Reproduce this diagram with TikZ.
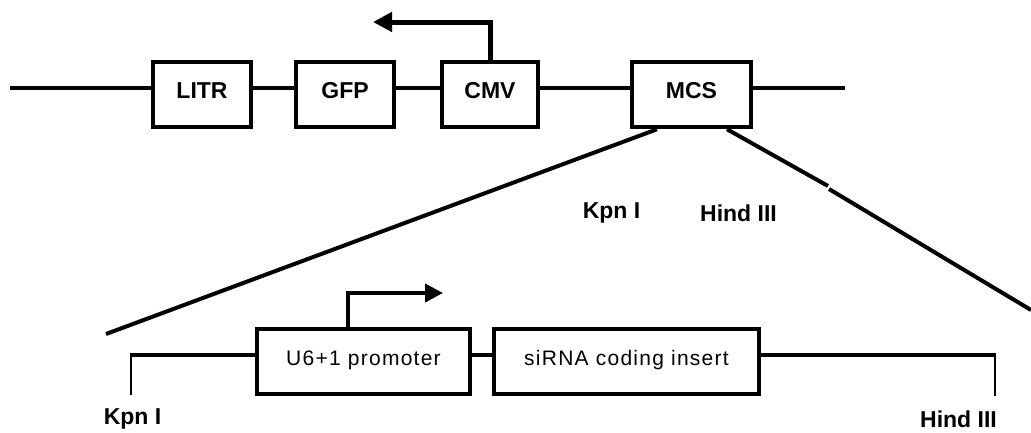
\documentclass[tikz,border=0pt]{standalone}
\usepackage{fontspec}
\setmainfont{Liberation Sans}
\usepackage{tikz}
\usetikzlibrary{arrows.meta,calc}

\begin{document}
\begin{tikzpicture}[x=1pt,y=-1pt,
  genebox/.style={rectangle, draw, line width=4.5pt, minimum height=65pt, text height=17pt, text depth=10pt, font=\fontsize{23}{26}\selectfont\bfseries},
  insbox/.style={rectangle, draw, line width=4pt, minimum height=65pt, text height=16pt, text depth=8pt, font=\fontsize{21}{24}\selectfont\addfontfeature{LetterSpace=6}},
  sitelbl/.style={font=\fontsize{23}{26}\selectfont\bfseries, inner sep=0pt},
  vecline/.style={line width=4pt},
  insline/.style={line width=4pt},
  tickline/.style={line width=2.5pt},
  promarrow/.style={line width=5pt, -{Triangle[length=19pt,width=19pt]}},
  smallarrow/.style={line width=4pt, -{Triangle[length=18pt,width=18pt]}}
]
\useasboundingbox (0,0) rectangle (1031,432);

\coordinate (vstart) at (10,88);
\coordinate (vend) at (845,88);
\coordinate (cmvtip) at (373,22);
\coordinate (zl) at (106,334);
\coordinate (zr1) at (828,186);
\coordinate (zr2) at (829,189);
\coordinate (zr) at (1031,310);
\coordinate (kpnlow) at (131,395);
\coordinate (kpntop) at (131,355);
\coordinate (hindlow) at (995,396);
\coordinate (hindtop) at (995,355);
\coordinate (u6tip) at (443,293);

\node[genebox, minimum width=98pt] (litr) at (202,94.5) {LITR};
\node[genebox, minimum width=98pt] (gfp) at (345,94.5) {GFP};
\node[genebox, minimum width=96pt] (cmv) at (490,94.5) {CMV};
\node[genebox, minimum width=119pt] (mcs) at (691.5,94.5) {MCS};

\draw[vecline] (vstart) -- (vstart -| litr.west);
\draw[vecline] ([yshift=6.5pt]litr.east) -- ([yshift=6.5pt]gfp.west);
\draw[vecline] ([yshift=6.5pt]gfp.east) -- ([yshift=6.5pt]cmv.west);
\draw[vecline] ([yshift=6.5pt]cmv.east) -- ([yshift=6.5pt]mcs.west);
\draw[vecline] ([yshift=6.5pt]mcs.east) -- (vend);
\draw[promarrow] (cmv.north) |- (cmvtip);

\draw[vecline] ([xshift=-34.5pt]mcs.south) -- (zl);
\draw[vecline] ([xshift=35.5pt]mcs.south) -- (zr1);
\draw[vecline] (zr2) -- (zr);

\node[sitelbl] (kpnmid) at (611.5,213) {Kpn I};
\node[sitelbl] (hindmid) at (738.5,213) {Hind III};

\node[insbox, minimum width=213pt] (u6) at (363.5,361.5) {U6+1 promoter};
\node[insbox, minimum width=265pt] (sirna) at (626.5,361.5) {siRNA coding insert};

\draw[tickline] (kpnlow) -- (kpntop);
\draw[insline] ([xshift=-1pt]kpntop) -- (kpntop -| u6.west);
\draw[insline] ([yshift=6.5pt]u6.east) -- ([yshift=6.5pt]sirna.west);
\draw[insline] ([yshift=6.5pt]sirna.east) -- ([xshift=1pt]hindtop);
\draw[tickline] (hindtop) -- (hindlow);
\draw[smallarrow] ([xshift=-15.5pt]u6.north) |- (u6tip);

\node[sitelbl] (kpnlbl) at (132.5,419) {Kpn I};
\node[sitelbl] (hindlbl) at (958.5,419) {Hind III};
\end{tikzpicture}
\end{document}
